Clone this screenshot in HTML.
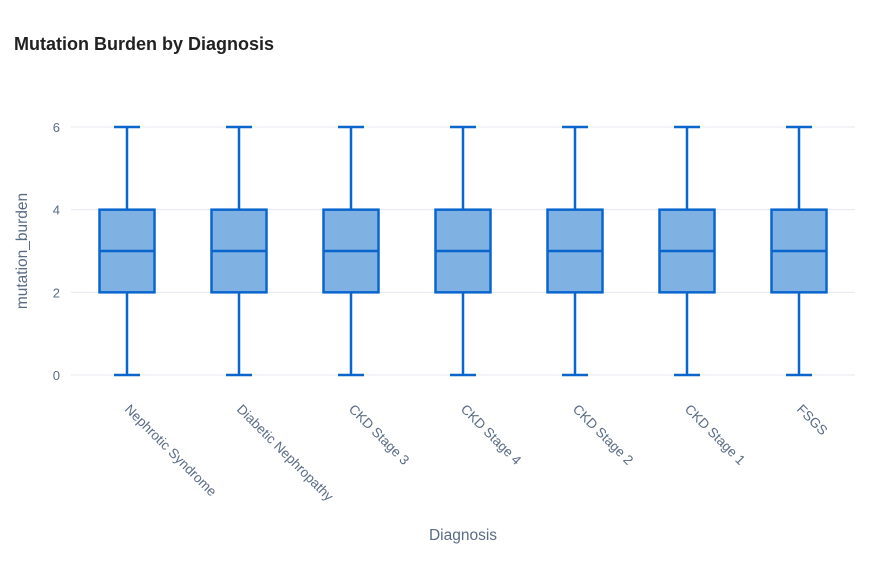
<!DOCTYPE html>
<html><head><meta charset="utf-8"><style>
body{margin:0;background:#fff;}
svg text{font-family:"Liberation Sans",sans-serif;}
</style></head><body>
<svg id="chart" width="895" height="580" xmlns="http://www.w3.org/2000/svg">
<text x="14" y="50" font-size="18" font-weight="bold" fill="#222">Mutation Burden by Diagnosis</text>
<g id="grid"></g><g id="boxes"></g><g id="xlabels"></g>
<text transform="translate(27,251) rotate(-90)" text-anchor="middle" font-size="15.5" fill="#5a6b85">mutation_burden</text>
<text x="463" y="540" text-anchor="middle" font-size="15.5" fill="#5a6b85">Diagnosis</text>
</svg>
<script>
const categories=["Nephrotic Syndrome","Diabetic Nephropathy","CKD Stage 3","CKD Stage 4","CKD Stage 2","CKD Stage 1","FSGS"];
const mins=[0,0,0,0,0,0,0];
const q1s=[2,2,2,2,2,2,2];
const medians=[3,3,3,3,3,3,3];
const q3s=[4,4,4,4,4,4,4];
const maxs=[6,6,6,6,6,6,6];
const yTicks=[0,2,4,6];
const NS="http://www.w3.org/2000/svg";
const left=71,right=855,y0=375,y6=127;
const y=v=>y0+(y6-y0)*v/6;
const step=(right-left)/categories.length;
const x=i=>left+step*(i+0.5);
function mk(t,a,p){const e=document.createElementNS(NS,t);for(const k in a)e.setAttribute(k,a[k]);p.appendChild(e);return e;}
const grid=document.getElementById('grid');
yTicks.forEach(v=>{
 const l=mk('line',{x1:left,x2:right,y1:y(v),y2:y(v),stroke:'#e4e9f1','stroke-width':1},grid);
 
 
 const t=mk('text',{x:60,y:y(v)+5,'text-anchor':'end','font-size':13,fill:'#5a6b85'},grid);
 t.textContent=v;
 
 
});
const bg=document.getElementById('boxes'),xl=document.getElementById('xlabels');
const st='#0a66cc';
categories.forEach((c,i)=>{
 const cx=x(i),bw=55,cw=26;
 const g=mk('g',{},bg);
 
 
 mk('line',{x1:cx,x2:cx,y1:y(maxs[i]),y2:y(q3s[i]),stroke:st,'stroke-width':2.5},g);
 mk('line',{x1:cx,x2:cx,y1:y(q1s[i]),y2:y(mins[i]),stroke:st,'stroke-width':2.5},g);
 mk('line',{x1:cx-cw/2,x2:cx+cw/2,y1:y(maxs[i]),y2:y(maxs[i]),stroke:st,'stroke-width':2.5},g);
 mk('line',{x1:cx-cw/2,x2:cx+cw/2,y1:y(mins[i]),y2:y(mins[i]),stroke:st,'stroke-width':2.5},g);
 mk('rect',{x:cx-bw/2,y:y(q3s[i]),width:bw,height:y(q1s[i])-y(q3s[i]),fill:'#80b1e3',stroke:st,'stroke-width':2.5},g);
 mk('line',{x1:cx-bw/2,x2:cx+bw/2,y1:y(medians[i]),y2:y(medians[i]),stroke:st,'stroke-width':2.5},g);
 const t=mk('text',{transform:`translate(${cx-3},${410}) rotate(45)`,'font-size':13.5,fill:'#5a6b85'},xl);
 t.textContent=c;
 
 
});
</script>
</body></html>
